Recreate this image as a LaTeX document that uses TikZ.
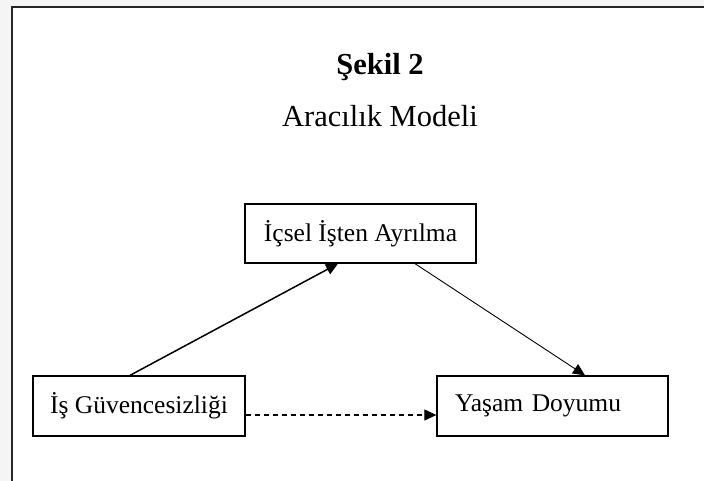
\documentclass[tikz,border=0pt]{standalone}
\usepackage{fontspec}
\setmainfont{Liberation Serif}
\usetikzlibrary{arrows.meta}
\tikzset{>={Triangle[length=12pt,width=11pt]}}
\tikzset{kutu/.style = {draw, line width=1.3pt, minimum width=231pt, minimum height=59pt, font=\fontsize{25.5}{30}\selectfont}}

\begin{document}
\begin{tikzpicture}[x=1pt, y=-1pt]
    \useasboundingbox (0,0) rectangle (704,481);
    \fill [gray!8] (0,0) rectangle (704,481);
    \fill [white] (12,7) rectangle (704,481);
    \draw [line width=1.5pt, black!85] (12,481) -- (12,7) -- (704,7);
    \node [anchor=base, font=\fontsize{30.5}{36}\selectfont\bfseries] (sekil) at (380,75) {Şekil 2};
    \node [anchor=base, font=\fontsize{30.5}{36}\selectfont] (baslik) at (380,127) {Aracılık Modeli};
    \node [kutu] (icsel) at (360.5,233.5) {İçsel İşten Ayrılma};
    \node [kutu, minimum width=212pt, minimum height=60pt] (guvence) at (139,406) {İş Güvencesizliği};
    \node [kutu, minimum height=60pt, text width=195pt, inner xsep=18pt, align=left] (doyum) at (552.5,406) {Yaşam Doyumu};
    \draw [->, line width=1.5pt] ([xshift=-9pt]guvence.north) -- ([xshift=-22.5pt]icsel.south);
    \draw [->, line width=0.9pt] ([xshift=54.5pt]icsel.south) -- ([xshift=32.5pt]doyum.north);
    \draw [->, line width=1.2pt, dash pattern=on 5pt off 4pt] ([yshift=-9pt]guvence.east) -- ([yshift=-9pt]doyum.west);
\end{tikzpicture}
\end{document}
